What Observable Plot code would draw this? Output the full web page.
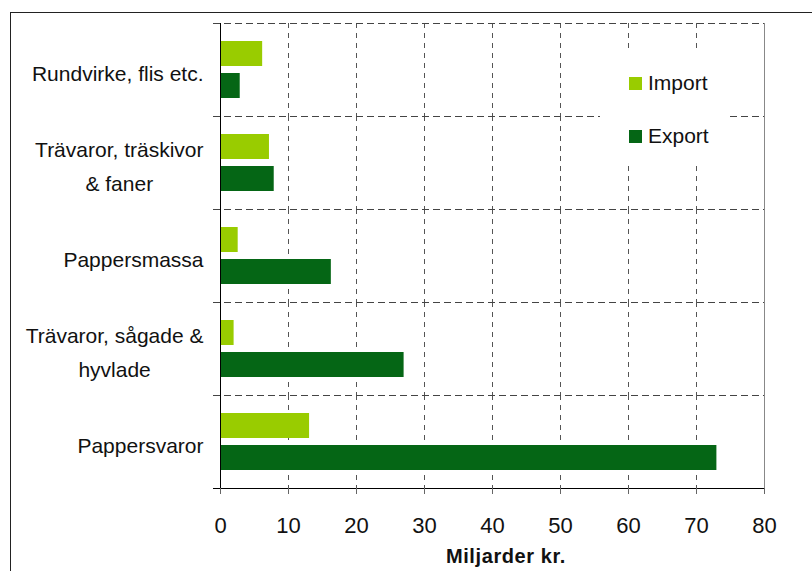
<!DOCTYPE html>
<html><head><meta charset="utf-8">
<script src="https://cdn.jsdelivr.net/npm/d3@7"></script>
<script src="https://cdn.jsdelivr.net/npm/@observablehq/plot@0.6"></script>
<style>
body{margin:0;background:#fff;overflow:hidden;}
#wrap{position:relative;width:812px;height:571px;overflow:hidden;font-family:"Liberation Sans",Arial,sans-serif;color:#111;}
#border{position:absolute;left:10px;top:12px;width:812px;height:600px;border:1.5px solid #222;box-sizing:border-box;pointer-events:none;}
#chart{position:absolute;left:0;top:0;}
#legend{position:absolute;left:600px;top:53px;width:130px;height:112px;background:#fff;}
.item{position:absolute;left:29px;height:26px;display:flex;align-items:center;font-size:21px;}
.sw{width:13px;height:13px;margin-right:6px;}
#xlabel{position:absolute;left:406px;width:200px;text-align:center;top:545px;font-size:20px;font-weight:bold;letter-spacing:0.6px;}
</style></head>
<body>
<div id="wrap">
  <div id="chart"></div>
  <div id="legend"></div>
  <div id="xlabel">Miljarder kr.</div>
  <div id="border"></div>
</div>
<script>
const categories = ["Rundvirke, flis etc.", "Trävaror, träskivor\n& faner", "Pappersmassa", "Trävaror, sågade &\nhyvlade", "Pappersvaror"];
const series = ["Import", "Export"];
const importValues = [6.2, 7.2, 2.6, 2.0, 13.1];
const exportValues = [2.9, 7.9, 16.3, 27.0, 73.0];
const xTicks = [0, 10, 20, 30, 40, 50, 60, 70, 80];
const colors = ["#99cc00", "#056615"];

const rows = categories.flatMap((c, i) => [
  {category: c, series: "Import", value: importValues[i]},
  {category: c, series: "Export", value: exportValues[i]}
]);

const chart = Plot.plot({
  width: 812, height: 571,
  marginLeft: 220, marginRight: 48, marginTop: 21, marginBottom: 82,
  style: {fontFamily: '"Liberation Sans",Arial,sans-serif', fontSize: "21px", color: "#111", background: "transparent"},
  x: {domain: [0, 80]},
  y: {domain: series, paddingInner: 0.21, paddingOuter: 0.52, axis: null},
  fy: {domain: categories, padding: 0, axis: null},
  color: {domain: series, range: colors},
  marks: [
    Plot.gridX(xTicks.filter(v => v > 0 && v < 80), {stroke: "#555", strokeOpacity: 1, strokeDasharray: "5,5"}),
    Plot.frame({anchor: "top", stroke: "#444", strokeDasharray: "6,5", insetLeft: -7}),
    Plot.barX(rows, {x: "value", y: "series", fy: "category", fill: "series"}),
    Plot.ruleX([0], {stroke: "#000"}),
    Plot.ruleX([80], {stroke: "#888"}),
    Plot.frame({anchor: "bottom", facetAnchor: "bottom", stroke: "#000", insetLeft: -7}),
    Plot.axisX(xTicks, {tickSize: 6, tickPadding: 23, stroke: "#666", label: null, fontSize: 22}),
    Plot.axisFy({anchor: "left", tickSize: 0, tickPadding: 17, label: null, lineHeight: 1.6, fontSize: 21})
  ]
});
document.getElementById("chart").appendChild(chart);

// center the lines of multi-line category labels within their right-aligned block
chart.querySelectorAll('g[aria-label="fy-axis tick label"] text').forEach(t => {
  const spans = t.querySelectorAll("tspan");
  if (spans.length > 1) {
    const W = Math.max(...Array.from(spans, s => s.getComputedTextLength()));
    t.setAttribute("text-anchor", "middle");
    spans.forEach(s => s.setAttribute("x", -W / 2));
  }
});

const legend = document.getElementById("legend");
series.forEach((s, i) => {
  const it = document.createElement("div");
  it.className = "item";
  it.style.top = (17 + i * 53) + "px";
  it.innerHTML = `<span class="sw" style="background:${colors[i]}"></span><span>${s}</span>`;
  legend.appendChild(it);
});
</script>
</body></html>
